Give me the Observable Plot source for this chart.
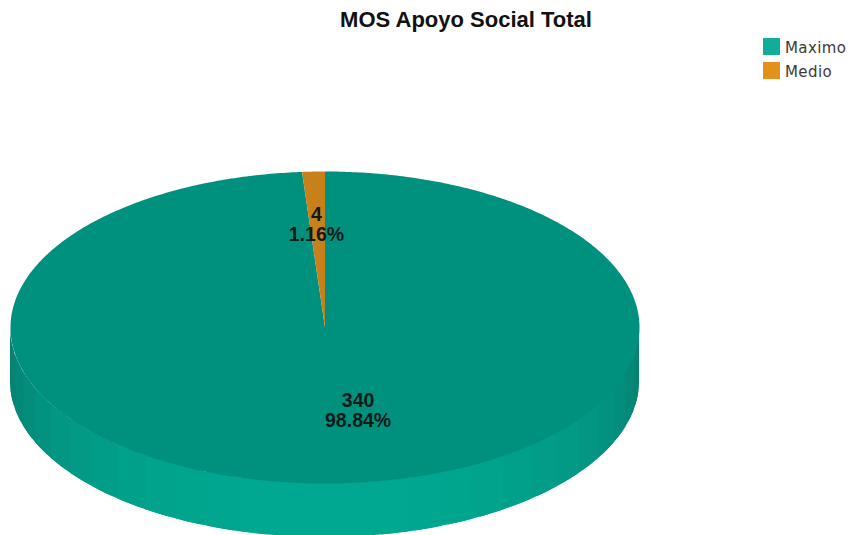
<!DOCTYPE html>
<html>
<head>
<meta charset="utf-8">
<title>MOS Apoyo Social Total</title>
<script src="https://cdn.jsdelivr.net/npm/d3@7"></script>
<script src="https://cdn.jsdelivr.net/npm/@observablehq/plot@0.6"></script>
<style>
  html, body { margin: 0; padding: 0; background: #fff; overflow: hidden; }
  #chart { position: relative; width: 852px; height: 535px; overflow: hidden; }
  #title { position: absolute; left: 240px; width: 452px; top: 7px; text-align: center; z-index: 1;
           font: bold 22px "Liberation Sans", Arial, sans-serif; color: #111; white-space: nowrap; }
  #legend { position: absolute; left: 763px; top: 34px; z-index: 1; font: 15px "DejaVu Sans", sans-serif; color: #3a3a3a; }
  #legend .row { display: flex; align-items: center; height: 24px; }
  #legend .sw { width: 17px; height: 17px; margin-right: 5px; flex: none; }
  #legend .row span:last-child { position: relative; top: 2px; letter-spacing: 0.4px; }
  svg { display: block; position: absolute; left: 0; top: 0; overflow: hidden; }
</style>
</head>
<body>
<div id="chart">
  <div id="title">MOS Apoyo Social Total</div>
  <div id="legend"></div>
</div>
<script>
// Survey counts per category
const categories = ["Maximo", "Medio"];
const counts = [340, 4];
const percentLabels = ["98.84%", "1.16%"];

// Palette: top face, legend swatch
const faceColors = ["#00917e", "#c8801a"];
const swatchColors = ["#12ad98", "#e0921c"];

// Label placement along each slice's mid-angle, as a share of the radius, plus pixel nudges
const labelRadius = [0.53, 0.66];
const labelNudge = [27, -1];

// Height of the pie's wall in y-scale units
const wallDepth = 0.346;
const wallBands = 28;

const arcs = d3.pie().sort(null)(counts);

// Points on the rim of the disc; angles run clockwise from twelve o'clock
const rim = (a) => ({x: Math.sin(a), y: Math.cos(a)});

function slicePolygon(arc) {
  const n = Math.max(4, Math.ceil((arc.endAngle - arc.startAngle) / 0.01));
  const pts = [{x: 0, y: 0}];
  for (let i = 0; i <= n; ++i) pts.push(rim(arc.startAngle + (arc.endAngle - arc.startAngle) * i / n));
  pts.push({x: 0, y: 0});
  return pts;
}

// Wall of the disc: vertical bands, brightest at the front and darkening towards the sides.
// Each band runs a little under its neighbour so no seam shows between them.
const wallShade = d3.interpolateRgb("#00a891", "#067d6e");
const wallStep = Math.PI / wallBands;
const wallOverlap = wallStep * 0.4;
const wallMarks = d3.range(wallBands).map((i) => ({i, dist: Math.abs(i + 0.5 - wallBands / 2)}))
  .sort((p, q) => q.dist - p.dist)
  .map(({i}) => {
    const a0 = Math.PI / 2 + i * wallStep;
    const a1 = a0 + wallStep;
    const mid = (a0 + a1) / 2;
    const color = wallShade(1 - Math.abs(Math.cos(mid - Math.PI)));
    const from = Math.max(Math.PI / 2, a0 - wallOverlap);
    const to = Math.min(Math.PI * 1.5, a1 + wallOverlap);
    const pts = d3.range(0, 9).map((k) => {
      const p = rim(from + (to - from) * k / 8);
      return {x: p.x, y1: p.y, y2: p.y - wallDepth};
    });
    return Plot.areaY(pts, {x: "x", y1: "y1", y2: "y2", fill: color});
  });

const topMarks = arcs.map((arc, i) =>
  Plot.line(slicePolygon(arc), {x: "x", y: "y", fill: faceColors[i], curve: "linear"})
);

// Two-line labels: count over percentage
const labels = arcs.map((arc, i) => {
  const p = rim((arc.startAngle + arc.endAngle) / 2);
  return {
    x: p.x * labelRadius[i],
    y: p.y * labelRadius[i],
    text: `${counts[i]}\n${percentLabels[i]}`,
    dx: labelNudge[i]
  };
});

const labelMarks = labels.map((d) =>
  Plot.text([d], {
    x: "x", y: "y", text: "text", dx: d.dx,
    fontFamily: "Liberation Sans, Arial, sans-serif",
    fontSize: 19.5, fontWeight: "bold", fill: "#0c1a18", lineHeight: 1.03, lineAnchor: "middle"
  })
);

const plot = Plot.plot({
  width: 852,
  height: 535,
  margin: 0,
  style: {background: "transparent"},
  x: {domain: [-1, 1], range: [10, 639], axis: null},
  y: {domain: [-1, 1], range: [483, 171], axis: null},
  marks: [...wallMarks, ...topMarks, ...labelMarks]
});

const chart = document.getElementById("chart");
chart.insertBefore(plot, chart.firstChild);

const legend = d3.select("#legend");
categories.forEach((name, i) => {
  const row = legend.append("div").attr("class", "row");
  row.append("span").attr("class", "sw").style("background", swatchColors[i]);
  row.append("span").text(name);
});
</script>
</body>
</html>
